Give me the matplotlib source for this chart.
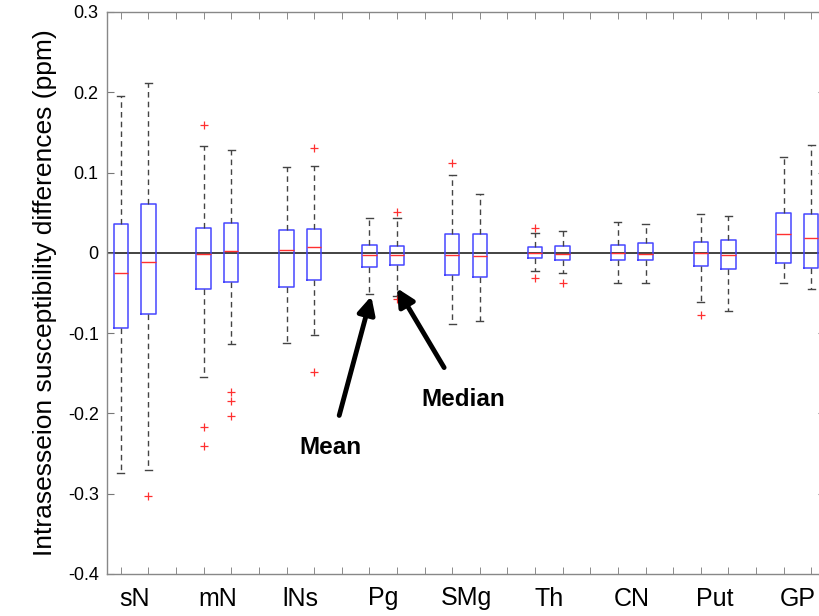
import matplotlib
matplotlib.use('Agg')
import numpy as np
import matplotlib.pyplot as plt

plt.rcParams['font.family'] = ['Liberation Sans', 'DejaVu Sans']
plt.rcParams['axes.unicode_minus'] = False

# group labels, two boxes per group (first = mean-based, second = median-based)
groups = ['sN', 'mN', 'lNs', 'Pg', 'SMg', 'Th', 'CN', 'Put', 'GP']
positions = [1, 2, 4, 5, 7, 8, 10, 11, 13, 14, 16, 17, 19, 20, 22, 23, 25, 26]

# values (ppm)
med = [-0.025, -0.011, -0.001, 0.002, 0.004, 0.007, -0.003, -0.003, -0.003, -0.004,
       0.000, -0.001, 0.000, -0.001, 0.000, -0.003, 0.023, 0.018]
q1 = [-0.094, -0.076, -0.045, -0.036, -0.043, -0.034, -0.018, -0.015, -0.028, -0.030,
      -0.006, -0.009, -0.009, -0.009, -0.016, -0.020, -0.013, -0.019]
q3 = [0.036, 0.061, 0.031, 0.037, 0.028, 0.030, 0.010, 0.009, 0.023, 0.023,
      0.007, 0.008, 0.010, 0.012, 0.013, 0.016, 0.050, 0.048]
whislo = [-0.274, -0.271, -0.155, -0.114, -0.112, -0.102, -0.051, -0.054, -0.088, -0.085,
          -0.022, -0.025, -0.037, -0.038, -0.061, -0.072, -0.038, -0.045]
whishi = [0.195, 0.212, 0.133, 0.128, 0.107, 0.108, 0.044, 0.044, 0.097, 0.073,
          0.025, 0.027, 0.038, 0.036, 0.048, 0.046, 0.119, 0.134]
fliers = [[], [-0.303], [0.159, -0.217, -0.240], [-0.173, -0.185, -0.203],
          [], [0.130, -0.149], [], [0.051, -0.058], [0.112], [],
          [0.031, -0.031], [-0.037], [], [], [-0.077], [], [], []]

yticks = [0.3, 0.2, 0.1, 0, -0.1, -0.2, -0.3, -0.4]
ytick_labels = ['0.3', '0.2', '0.1', '0', '-0.1', '-0.2', '-0.3', '-0.4']

stats = []
for i in range(len(positions)):
    stats.append({'med': med[i], 'q1': q1[i], 'q3': q3[i],
                  'whislo': whislo[i], 'whishi': whishi[i], 'fliers': fliers[i]})

fig = plt.figure(figsize=(8.2, 6.16), dpi=100)
ax = fig.add_axes([107 / 820, 42 / 616, 718 / 820, 562 / 616])

ax.axhline(0, color='#222222', lw=1.2, zorder=1)

ax.bxp(stats, positions=positions, widths=0.52, capwidths=0.26,
       boxprops=dict(color='#4646ff', lw=1.1),
       whiskerprops=dict(color='#444444', lw=1.0, linestyle=(0, (4, 3))),
       capprops=dict(color='#444444', lw=1.0),
       medianprops=dict(color='#ff3030', lw=1.0),
       flierprops=dict(marker='+', markeredgecolor='#ff3030', markersize=6,
                       markeredgewidth=0.9, linestyle='none'),
       manage_ticks=False, zorder=2)

ax.set_xlim(0.5, 26.5)
ax.set_ylim(-0.4, 0.3)

# group labels at pair centres, small ticks at every slot
ax.set_xticks([p + 0.5 for p in positions[::2]])
ax.set_xticklabels(groups, fontsize=18)
ax.set_xticks(range(1, 27), minor=True)
ax.tick_params(axis='x', which='major', length=0, pad=9)
ax.tick_params(axis='x', which='minor', direction='in', length=5,
               top=True, bottom=True, color='#777777')

ax.set_yticks(yticks)
ax.set_yticklabels(ytick_labels, fontsize=13)
ax.tick_params(axis='y', direction='in', length=5, left=True, right=True,
               color='#777777', pad=6)

for s in ax.spines.values():
    s.set_color('#888888')
    s.set_linewidth(1.0)
ax.spines['right'].set_visible(False)

ax.set_ylabel('Intrasesseion susceptibility differences (ppm)', fontsize=19, labelpad=8)

ax.annotate('Mean', xy=(10.07, -0.054), xytext=(8.6, -0.242),
            fontsize=17.5, fontweight='bold', ha='center', va='center',
            arrowprops=dict(arrowstyle='-|>', color='black', lw=3.5,
                            mutation_scale=26, shrinkA=13, shrinkB=0))
ax.annotate('Median', xy=(11.0, -0.044), xytext=(13.4, -0.183),
            fontsize=17.5, fontweight='bold', ha='center', va='center',
            arrowprops=dict(arrowstyle='-|>', color='black', lw=3.5,
                            mutation_scale=26, shrinkA=15, shrinkB=0))

fig.savefig('out.png', dpi=100)
